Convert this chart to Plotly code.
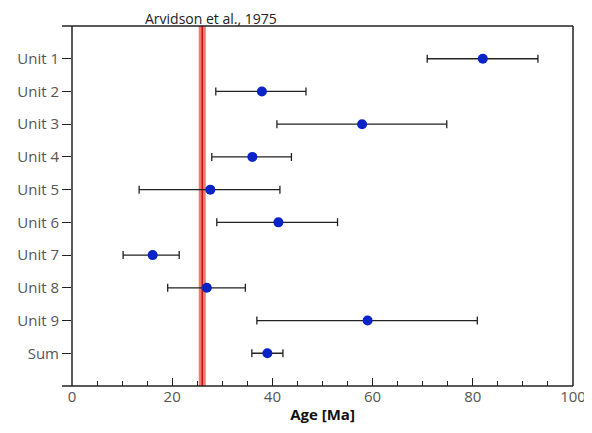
import plotly.graph_objects as go

units = ["Unit 1", "Unit 2", "Unit 3", "Unit 4", "Unit 5", "Unit 6", "Unit 7", "Unit 8", "Unit 9", "Sum"]
age = [82.0, 37.9, 57.9, 36.0, 27.6, 41.2, 16.1, 26.9, 59.0, 39.0]
age_low = [70.9, 28.7, 40.9, 27.9, 13.4, 28.9, 10.2, 19.1, 36.9, 35.9]
age_high = [93.0, 46.7, 74.8, 43.8, 41.5, 53.0, 21.4, 34.6, 80.9, 42.1]

ref_label = "Arvidson et al., 1975"
ref_age = 26.0
ref_low = 25.3
ref_high = 26.7

x_ticks = [0, 20, 40, 60, 80, 100]

err_plus = [h - a for h, a in zip(age_high, age)]
err_minus = [a - l for a, l in zip(age, age_low)]

font_family = "Open Sans, DejaVu Sans, sans-serif"
fs = 15

fig = go.Figure()
fig.add_trace(go.Scatter(
    x=age, y=units, mode="markers",
    marker=dict(color="#0a23c8", size=10),
    error_x=dict(type="data", symmetric=False, array=err_plus, arrayminus=err_minus,
                 color="#222222", thickness=1.3, width=4),
    showlegend=False,
))

fig.add_shape(type="rect", xref="x", yref="paper", x0=ref_low, x1=ref_high, y0=0, y1=1,
              fillcolor="#f47a72", line=dict(width=0), layer="below")
fig.add_shape(type="line", xref="x", yref="paper", x0=ref_age, x1=ref_age, y0=0, y1=1,
              line=dict(color="#c81414", width=1.5), layer="below")

# frame
frame = dict(color="#222222", width=1.5)
fig.add_shape(type="line", xref="paper", yref="paper", x0=-0.02, x1=1, y0=1, y1=1, line=frame)
fig.add_shape(type="line", xref="paper", yref="paper", x0=-0.02, x1=1, y0=0, y1=0, line=frame)
fig.add_shape(type="line", xref="paper", yref="paper", x0=1, x1=1, y0=0, y1=1, line=frame)
fig.add_shape(type="line", xref="paper", yref="paper", x0=0, x1=0, y0=0, y1=1, line=frame)

fig.add_annotation(x=ref_age, y=1, xref="x", yref="paper", text=ref_label, showarrow=False,
                   yanchor="bottom", xanchor="center", xshift=9, yshift=-3, borderpad=0,
                   font=dict(size=14, color="#222222", family=font_family))

fig.update_xaxes(range=[0, 100], tickvals=x_ticks, ticks="inside", ticklen=8, tickwidth=1.3,
                 tickcolor="#222222", showgrid=False, zeroline=False, showline=False, automargin=False,
                 minor=dict(dtick=5, ticks="inside", ticklen=5, tickwidth=1.2, tickcolor="#222222", showgrid=False),
                 tickfont=dict(size=fs, color="#555555", family=font_family),
                 title=dict(text="<b>Age [Ma]</b>", font=dict(size=fs, color="#111111", family=font_family), standoff=4))
fig.update_yaxes(type="category", categoryorder="array", categoryarray=units,
                 range=[len(units), -1], ticks="outside", ticklen=9, tickwidth=1.3, tickcolor="#222222",
                 showgrid=False, zeroline=False, showline=False, automargin=False,
                 tickfont=dict(size=fs, color="#555555", family=font_family))

fig.update_layout(width=592, height=433, margin=dict(l=64, r=27, t=18, b=55),
                  plot_bgcolor="white", paper_bgcolor="white")

fig.write_html("out.html")
